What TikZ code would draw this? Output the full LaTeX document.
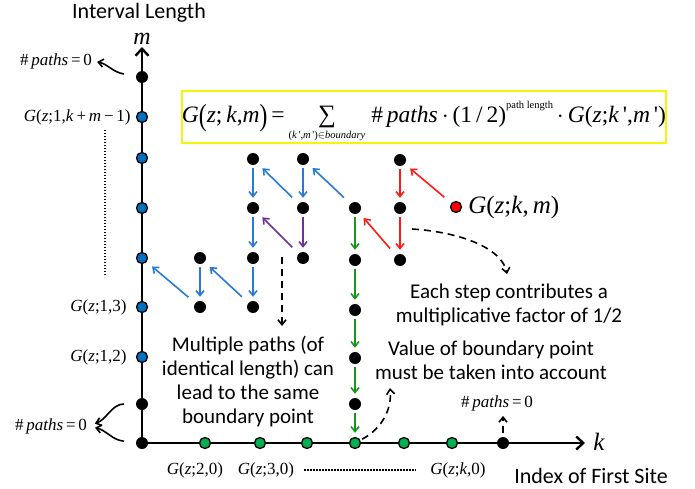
\documentclass[tikz,border=0pt]{standalone}
\usepackage{graphicx}
\usepackage{fontspec}
\setmainfont{Carlito}
\newfontfamily\tnr{Liberation Serif}
\usetikzlibrary{arrows.meta, positioning}
\definecolor{ptblue}{HTML}{0070C0}
\definecolor{ptgreen}{HTML}{00B050}
\definecolor{ptred}{HTML}{FF0000}
\definecolor{arblue}{HTML}{2A7AD5}
\definecolor{arpurple}{HTML}{7030A0}
\definecolor{arred}{HTML}{FF1A1A}
\definecolor{argreen}{HTML}{1B951B}
\definecolor{fyellow}{HTML}{F5F50A}
\newcommand\vi[1]{\textit{#1}}
\newcommand\bigp[1]{\raisebox{-0.12em}{\scalebox{1}[1.3]{#1}}}
\newcommand\sumlim{\ooalign{\hfil{\fontsize{25}{26}\selectfont ∑}\hfil\cr
  \hfil\raisebox{-16pt}[0pt][0pt]{\fontsize{10.5}{12}\selectfont(\vi{k}\,',\vi{m}\,')$\in$\vi{boundary}}\hfil\cr}}

\begin{document}
\begin{tikzpicture}[
  x=1pt, y=-1pt,
  >={Straight Barb[length=5pt, width=8pt]},
  axis/.style={line width=2.8pt, -{Straight Barb[length=7pt, width=13pt, line width=2.4pt]}},
  dot/.style={circle, fill=black, minimum size=12pt, inner sep=0pt},
  cdot/.style={circle, draw=black, line width=1.3pt, fill=#1, minimum size=11pt, inner sep=0pt},
  hop/.style={->, line width=1.6pt, draw=#1, shorten <=3pt, shorten >=4pt},
  diag/.style={->, line width=1.6pt, draw=#1, shorten <=9pt, shorten >=7pt},
  dcurve/.style={->, line width=1.6pt, dash pattern=on 7pt off 5pt},
  pcurve/.style={->, line width=1.6pt},
  note/.style={font=\fontsize{21}{24}\selectfont, align=center, inner sep=0pt},
  lab/.style={font=\tnr\fontsize{17}{20}\selectfont, inner sep=0pt},
  dots/.style={line width=2pt, dash pattern=on 1.4pt off 1.6pt},
  fbox/.style={draw=fyellow, line width=2.6pt, minimum width=482pt,
    minimum height=52pt, inner sep=0pt},
]

% Canvas
\useasboundingbox (0,0) rectangle (695,489);

% Axis titles
\node[font=\fontsize{22}{26}\selectfont] (ytitle) at (139,13) {Interval Length};
\node[font=\fontsize{22}{26}\selectfont] (xtitle) at (591,476) {Index of First Site};

% Axes
\coordinate (orig) at (142,443);
\coordinate (mtip) at (142,47);
\coordinate (ktip) at (585,443);
\draw[axis] (orig) -- (mtip);
\draw[axis] (orig) -- (ktip);
\node[font=\tnr\itshape\fontsize{24}{26}\selectfont, inner sep=0pt] (mname) at (142,39) {m};
\node[font=\tnr\itshape\fontsize{25}{26}\selectfont] (kname) at (599,442) {k};

% Boundary points on the m axis
\node[dot] (a0) at (142,443) {};
\node[dot] (a1) at (142,404) {};
\node[cdot=ptblue] (a2) at (142,357) {};
\node[cdot=ptblue] (a3) at (142,307) {};
\node[cdot=ptblue] (a4) at (142,258) {};
\node[cdot=ptblue] (a5) at (142,208) {};
\node[cdot=ptblue] (a6) at (142,158) {};
\node[cdot=ptblue] (a7) at (142,117) {};
\node[dot] (a8) at (142,77) {};

\node[lab, left=5pt of a7] (ga7) {\vi{G}(\vi{z};1,\vi{k}\,+\,\vi{m}\,−\,1)};
\node[lab, left=9pt of a3] (ga3) {\vi{G}(\vi{z};1,3)};
\node[lab, left=9pt of a2] (ga2) {\vi{G}(\vi{z};1,2)};
\draw[dots] (105,130) -- (105,277);

% Boundary points on the k axis
\node[cdot=ptgreen] (b1) at (205,443) {};
\node[cdot=ptgreen] (b2) at (260,443) {};
\node[cdot=ptgreen] (b3) at (307,443) {};
\node[cdot=ptgreen] (b4) at (355,443) {};
\node[cdot=ptgreen] (b5) at (404,443) {};
\node[cdot=ptgreen] (b6) at (452,443) {};
\node[dot] (b7) at (503,443) {};

\node[lab] (gb1) at (195,470) {\vi{G}(\vi{z};2,0)};
\node[lab] (gb2) at (266,470) {\vi{G}(\vi{z};3,0)};
\node[lab] (gbk) at (458,470) {\vi{G}(\vi{z};\vi{k},0)};
\draw[dots] ([xshift=10pt]gb2.east) -- ([xshift=-14pt]gbk.west);

% Interior lattice points
\node[dot] (p21) at (253,159) {};
\node[dot] (p31) at (303,159) {};
\node[dot] (p51) at (400,160) {};
\node[dot] (p22) at (253,208) {};
\node[dot] (p32) at (303,208) {};
\node[dot] (p42) at (355,208) {};
\node[dot] (p52) at (400,208) {};
\node[dot] (p13) at (200,258) {};
\node[dot] (p23) at (253,258) {};
\node[dot] (p33) at (303,258) {};
\node[dot] (p43) at (355,260) {};
\node[dot] (p53) at (400,260) {};
\node[dot] (p14) at (200,307) {};
\node[dot] (p24) at (253,307) {};
\node[dot] (p44) at (355,310) {};
\node[dot] (p45) at (355,358) {};
\node[dot] (p46) at (355,404) {};
\node[cdot=ptred] (gkm) at (456,207) {};
\node[font=\tnr\fontsize{25}{28}\selectfont, inner sep=0pt, right=6pt of gkm]
  (gkmlab) {\vi{G}(\vi{z};\vi{k},\,\vi{m})};

% Blue paths
\draw[hop=arblue] (p21) -- (p22);
\draw[hop=arblue] (p31) -- (p32);
\draw[hop=arblue] (p22) -- (p23);
\draw[hop=arblue] (p13) -- (p14);
\draw[hop=arblue] (p23) -- (p24);
\draw[diag=arblue] (p32) -- (p21);
\draw[diag=arblue] (p42) -- (p31);
\draw[diag=arblue] (p14) -- (a4);
\draw[diag=arblue] (p24) -- (p13);

% Purple path
\draw[hop=arpurple] (p32) -- (p33);
\draw[diag=arpurple] (p33) -- (p22);

% Red path
\draw[diag=arred] (gkm) -- (p51);
\draw[hop=arred] (p51) -- (p52);
\draw[hop=arred] (p52) -- (p53);
\draw[diag=arred] (p53) -- (p42);

% Green path
\draw[hop=argreen] (p42) -- (p43);
\draw[hop=argreen] (p43) -- (p44);
\draw[hop=argreen] (p44) -- (p45);
\draw[hop=argreen] (p45) -- (p46);
\draw[hop=argreen] (p46) -- (b4);

% Formula
\node[fbox] (formula) at (424,117) {\tnr\fontsize{23.5}{28}\selectfont
  \vi{G}\bigp{(}\vi{z};\,\vi{k},\vi{m}\bigp{)}\,=\,\sumlim\ \#\,\vi{paths}\,$\cdot$\,(1\,/\,2)\raisebox{14pt}{\fontsize{10.5}{12}\selectfont path length}\,$\cdot$\,\vi{G}(\vi{z};\vi{k}\,',\vi{m}\,')};

% Zero-path labels
\node[lab] (np1) at (56,61) {\#\,\vi{paths}\,=\,0};
\node[lab] (np2) at (51,426) {\#\,\vi{paths}\,=\,0};
\node[lab] (np3) at (497,403) {\#\,\vi{paths}\,=\,0};
\draw[pcurve, shorten <=12pt, shorten >=5pt] (a8) .. controls (112,72) and (108,64) .. (np1.east);
\draw[pcurve, shorten <=12pt, shorten >=8pt] (a1) .. controls (112,404) and (106,420) .. (np2.east);
\draw[pcurve, shorten <=12pt, shorten >=8pt] (a0) .. controls (112,440) and (106,430) .. (np2.east);
\draw[dcurve, shorten <=4pt, shorten >=5pt] (b7) -- (b7 |- np3.south);

% Notes
\node[note] (multi) at (248,382) {Multiple paths (of\\identical length) can\\lead to the same\\boundary point};
\node[note] (each) at (509,305) {Each step contributes a\\multiplicative factor of 1/2};
\node[note] (value) at (491,360) {Value of boundary point\\must be taken into account};

% Pointers to the notes
\coordinate (mp0) at (282,257);
\coordinate (mp1) at (282,326);
\draw[dcurve] (mp0) -- (mp1);
\coordinate (fc0) at (412,229);
\coordinate (fc1) at (507,274);
\draw[dcurve] (fc0) .. controls (460,232) and (502,248) .. (fc1);
\coordinate (vc1) at (390,388);
\draw[dcurve, shorten <=2pt] (b4) .. controls (383,428) and (392,408) .. (vc1);

\end{tikzpicture}
\end{document}
